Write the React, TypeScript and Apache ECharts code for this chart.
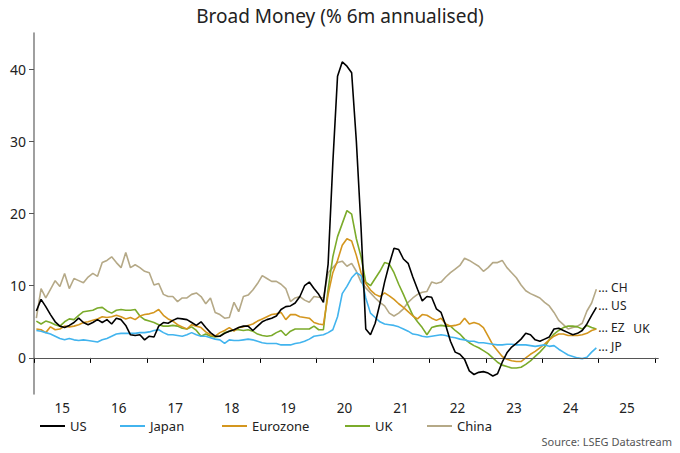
import React, { useEffect, useRef } from "react";
import * as echarts from "echarts";

const START_YEAR = 2015;
const YEAR_TICKS = [2015, 2016, 2017, 2018, 2019, 2020, 2021, 2022, 2023, 2024, 2025, 2026];
const YEAR_LABEL_POS = [2015.5, 2016.5, 2017.5, 2018.5, 2019.5, 2020.5, 2021.5, 2022.5, 2023.5, 2024.5, 2025.5];
const Y_TICKS = [0, 10, 20, 30, 40];

// Monthly values, Jan 2015 .. Dec 2024
const US = [
  6.5, 8.1, 7.1, 6.0, 5.0, 4.4, 4.2, 4.5, 4.9, 5.5, 4.9, 4.6,
  4.9, 5.3, 4.9, 5.3, 4.7, 5.5, 5.3, 4.5, 3.2, 3.1, 3.2, 2.5,
  3.0, 2.9, 4.4, 4.9, 4.8, 5.2, 5.5, 5.4, 5.3, 4.9, 4.5, 5.0,
  4.2, 3.5, 3.0, 3.0, 3.4, 3.7, 3.9, 4.2, 4.4, 4.4, 3.8, 4.4,
  5.0, 5.3, 5.5, 5.8, 6.7, 7.1, 7.2, 7.6, 8.5, 10.0, 10.5, 9.6,
  8.8, 7.7, 13.0, 27.0, 39.0, 41.0, 40.4, 39.5, 30.0, 18.0, 4.0, 3.2,
  4.8, 7.5, 10.5, 13.0, 15.2, 15.0, 13.7, 13.1, 11.2, 9.5, 7.9, 8.5,
  8.4, 6.8, 6.3, 4.5, 2.3, 0.8, 0.5, -0.2, -1.8, -2.3, -2.0, -1.9,
  -2.1, -2.5, -2.2, -0.6, 0.7, 1.5, 2.0, 2.6, 3.4, 3.2, 2.5, 2.3,
  2.6, 2.9, 4.0, 4.1, 3.8, 3.5, 3.2, 3.4, 3.8, 4.7, 5.9, 7.0,
];

const JAPAN = [
  3.8, 3.7, 3.5, 3.3, 3.0, 2.7, 2.5, 2.7, 2.5, 2.4, 2.5, 2.4,
  2.3, 2.2, 2.5, 2.7, 3.0, 3.3, 3.4, 3.4, 3.4, 3.4, 3.5, 3.5,
  3.6, 3.8, 3.9, 3.5, 3.2, 3.2, 3.1, 3.0, 3.2, 3.5, 3.2, 3.0,
  3.0, 2.8, 2.6, 2.5, 2.0, 2.5, 2.4, 2.4, 2.5, 2.6, 2.5, 2.3,
  2.1, 2.0, 2.0, 2.0, 1.8, 1.8, 1.8, 2.0, 2.1, 2.3, 2.6, 3.0,
  3.1, 3.2, 3.5, 3.9, 5.7, 8.9, 9.9, 11.1, 11.8, 11.4, 8.3, 6.2,
  5.6, 5.0, 4.7, 4.6, 4.5, 4.3, 4.0, 3.7, 3.3, 3.2, 3.0, 2.9,
  3.0, 3.1, 3.2, 3.1, 2.9, 2.8, 2.6, 2.5, 2.3, 2.3, 2.1, 2.1,
  2.0, 1.9, 1.8, 1.8, 1.9, 1.9, 1.8, 1.8, 1.8, 1.7, 1.6, 1.7,
  1.8, 1.6, 1.7, 1.2, 0.8, 0.4, 0.2, 0.0, -0.1, 0.1, 0.8, 1.4,
];

const EUROZONE = [
  4.0, 3.9, 3.5, 4.3, 3.9, 4.0, 4.4, 4.3, 4.4, 4.6, 4.9, 5.0,
  5.2, 5.4, 5.7, 5.6, 5.7, 5.9, 5.7, 5.4, 5.6, 5.3, 5.8, 6.0,
  6.1, 6.3, 6.7, 5.9, 5.4, 5.1, 4.6, 4.3, 4.0, 4.6, 4.4, 4.2,
  3.6, 3.2, 3.0, 3.5, 3.8, 4.2, 3.7, 4.2, 4.3, 4.5, 4.7, 5.1,
  5.4, 5.7, 6.0, 6.1, 6.3, 5.3, 6.0, 6.0, 5.7, 5.6, 5.5, 4.9,
  4.7, 4.6, 8.8, 11.8, 13.5, 15.6, 16.5, 16.2, 14.2, 11.8, 10.3, 9.4,
  8.8, 8.5, 9.0, 8.6, 8.1, 7.5, 7.0, 6.4, 5.8, 5.4, 6.0, 5.9,
  5.5, 5.2, 5.5, 4.7, 4.4, 4.5, 4.7, 5.5, 4.7, 4.9, 4.7, 4.2,
  3.0, 1.8, 1.0, 0.2, -0.2, -0.4, -0.5, -0.5, 0.0, 0.5, 0.9, 1.4,
  1.9, 2.5, 3.0, 3.3, 3.3, 3.1, 3.1, 3.1, 3.2, 3.4, 3.8, 4.0,
];

const UK = [
  5.1, 4.7, 5.1, 4.9, 4.6, 4.4, 5.0, 5.4, 5.3, 5.9, 6.4, 6.5,
  6.6, 6.9, 7.0, 6.5, 6.2, 6.6, 6.7, 6.6, 6.6, 6.7, 5.8, 5.3,
  5.1, 4.9, 4.6, 4.4, 4.4, 4.5, 4.4, 4.1, 4.0, 4.3, 3.8, 3.0,
  3.3, 3.0, 2.9, 3.0, 3.5, 3.7, 3.9, 3.9, 3.8, 3.9, 3.7, 3.3,
  3.1, 3.0, 3.1, 3.5, 3.8, 3.1, 3.7, 4.0, 4.0, 4.0, 4.0, 4.4,
  3.9, 3.9, 9.5, 14.0, 16.8, 18.6, 20.4, 19.9, 16.5, 14.0, 10.5, 10.0,
  11.0, 12.0, 13.2, 13.0, 11.8, 10.2, 8.8, 7.3, 5.9, 5.0, 4.2, 3.2,
  4.2, 4.4, 4.5, 4.4, 4.4, 3.8, 3.3, 2.6, 2.1, 1.7, 1.4, 1.0,
  0.6, 0.0, -0.6, -1.0, -1.2, -1.4, -1.4, -1.3, -0.9, -0.4, 0.2, 0.8,
  1.5, 2.5, 3.3, 3.8, 4.2, 4.4, 4.4, 4.3, 4.0, 4.5, 4.2, 4.0,
];

const CHINA = [
  5.5, 9.6, 8.3, 9.5, 10.7, 9.9, 11.7, 9.6, 11.0, 10.7, 10.4, 11.2,
  11.7, 11.3, 13.2, 13.5, 14.0, 13.2, 12.5, 14.6, 12.5, 12.9, 12.5, 12.0,
  11.8, 10.1, 10.3, 8.8, 8.5, 8.5, 7.8, 8.3, 8.3, 8.8, 9.0, 8.5,
  7.5, 8.3, 6.3, 6.0, 5.5, 5.6, 7.7, 6.4, 8.5, 8.7, 9.4, 10.3,
  11.4, 11.0, 10.6, 10.6, 10.2, 9.6, 7.8, 8.3, 8.5, 8.0, 7.7, 8.5,
  8.4, 8.3, 11.8, 12.5, 13.2, 13.4, 12.7, 13.1, 12.0, 10.5, 9.7, 9.0,
  8.3, 7.7, 7.2, 6.2, 5.8, 6.2, 6.8, 7.7, 8.3, 8.8, 9.1, 9.2,
  10.5, 10.3, 10.5, 11.2, 11.8, 12.3, 12.8, 13.8, 13.5, 13.1, 12.7, 12.0,
  12.5, 13.2, 13.2, 13.5, 12.5, 11.8, 11.1, 10.1, 9.3, 8.9, 8.6, 8.3,
  7.7, 7.2, 6.3, 5.2, 4.6, 4.0, 4.2, 4.4, 4.8, 6.5, 7.6, 9.5,
];

const LEGEND_ORDER = ["US", "Japan", "Eurozone", "UK", "China"];
const LEGEND_LEFT = [40, 120, 222, 345, 427];
const COLORS: Record<string, string> = {
  US: "#000000",
  Japan: "#42b4ee",
  Eurozone: "#d4961e",
  UK: "#7bab2b",
  China: "#b5a987",
};
const FONT = "'Noto Sans', 'DejaVu Sans', sans-serif";

const toPoints = (vals: number[]) =>
  vals.map((v, i) => [START_YEAR + (i + 0.5) / 12, v]);

function lineSeries(
  name: string,
  vals: number[],
  tag: string,
  offset: number[],
  z: number,
  extra: any = {}
) {
  const color = COLORS[name];
  return {
    type: "line",
    name,
    data: toPoints(vals),
    symbol: "none",
    z,
    lineStyle: { color, width: 1.6 },
    itemStyle: { color },
    endLabel: {
      show: true,
      formatter: tag,
      color: "#222",
      fontSize: 12,
      fontFamily: FONT,
      distance: 2,
      offset,
    },
    ...extra,
  };
}

export default function App() {
  const ref = useRef<HTMLDivElement>(null);
  useEffect(() => {
    const chart = echarts.init(ref.current!, null, { renderer: "svg" });
    const legendGraphics: any[] = [];
    LEGEND_ORDER.forEach((name, i) => {
      legendGraphics.push({
        type: "rect",
        shape: { x: LEGEND_LEFT[i], y: 425, width: 25, height: 2 },
        style: { fill: COLORS[name] },
      });
      legendGraphics.push({
        type: "text",
        x: LEGEND_LEFT[i] + 30,
        y: 426,
        style: {
          text: name,
          fontSize: 13,
          fill: "#222",
          fontFamily: FONT,
          verticalAlign: "middle",
          align: "left",
        },
      });
    });
    const option: any = {
      animation: false,
      textStyle: { fontFamily: FONT },
      title: {
        text: "Broad Money (% 6m annualised)",
        left: "center",
        top: 1,
        textStyle: { fontSize: 19, fontWeight: "normal", color: "#222", fontFamily: FONT },
      },
      grid: { left: 34, right: 22, top: 33, bottom: 59, containLabel: false },
      xAxis: {
        type: "value",
        min: 2015,
        max: 2026.05,
        axisLine: { show: true, lineStyle: { color: "#000", width: 1.2 } },
        axisTick: { show: true, customValues: YEAR_TICKS, length: 5, lineStyle: { color: "#000" } },
        axisLabel: {
          customValues: YEAR_LABEL_POS,
          formatter: (v: number) => String(Math.floor(v) % 100),
          fontSize: 13.5,
          color: "#222",
          margin: 7,
        },
        splitLine: { show: false },
      },
      yAxis: {
        type: "value",
        min: -5,
        max: 45,
        axisLine: { show: true, lineStyle: { color: "#888", width: 1.6 } },
        axisTick: { show: true, customValues: Y_TICKS, length: 5, lineStyle: { color: "#555" } },
        axisLabel: { customValues: Y_TICKS, fontSize: 14, color: "#222", margin: 8 },
        splitLine: { show: false },
      },
      graphic: [
        ...legendGraphics,
        {
          type: "text",
          right: 8,
          top: 436,
          style: { text: "Source: LSEG Datastream", fontSize: 11, fill: "#555", fontFamily: FONT },
        },
      ],
      series: [
        lineSeries("China", CHINA, "... CH", [0, -2], 1),
        lineSeries("UK", UK, "UK", [35, -1], 2),
        lineSeries("Eurozone", EUROZONE, "... EZ", [0, -2], 3),
        lineSeries("Japan", JAPAN, "... JP", [0, -1], 4),
        lineSeries("US", US, "... US", [0, -2], 5, {
          markLine: {
            silent: true,
            symbol: "none",
            label: { show: false },
            lineStyle: { color: "#555", width: 1, type: "solid" },
            data: [{ yAxis: 0 }],
          },
        }),
      ],
    };
    chart.setOption(option);
    return () => chart.dispose();
  }, []);
  return (
    <div
      ref={ref}
      style={{ position: "absolute", left: 0, top: 0, width: 680, height: 453 }}
    />
  );
}
